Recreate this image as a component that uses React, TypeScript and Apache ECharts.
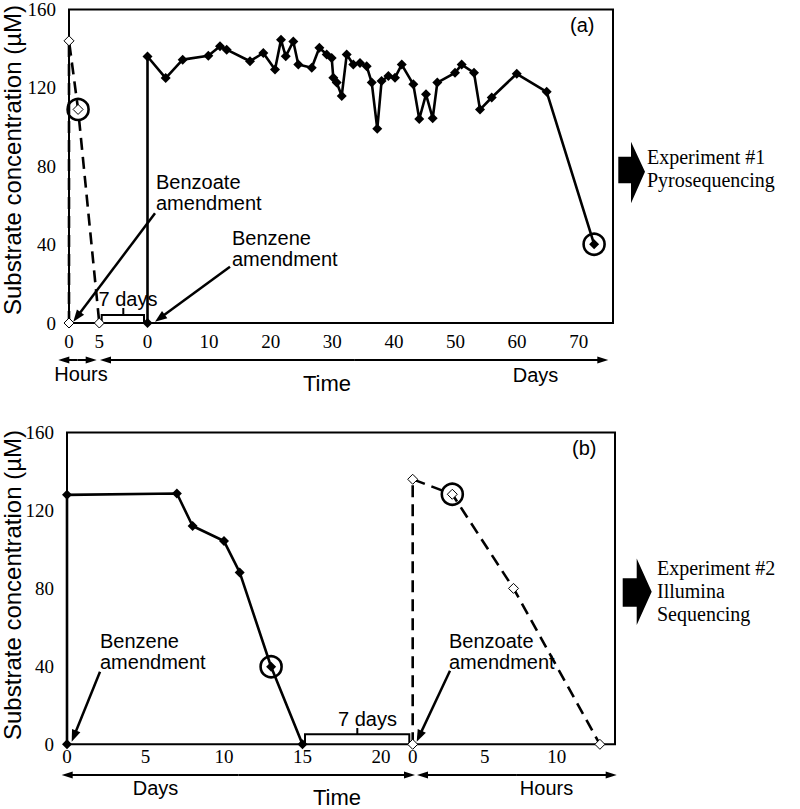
import React, { useEffect, useRef } from "react";
import * as echarts from "echarts";

// ---- data ----
// Panel (a): benzoate (hours, dashed, open diamonds)
const aBenzoateHours = [0, 0, 1.5, 5];
const aBenzoateConc = [0, 144, 109, 0];
// Panel (a): benzene (days, solid, filled diamonds)
const aBenzeneDays = [0, 0, 2.95, 5.71, 9.87, 11.77, 12.86, 16.64, 18.8, 20.7, 21.67, 22.44, 23.67, 24.48, 26.66, 27.9, 29.09, 29.9, 30.16, 30.71, 31.53, 32.34, 33.41, 34.5, 35.58, 36.4, 37.3, 38.0, 39.1, 40.18, 41.27, 43.15, 44.12, 45.21, 46.3, 47.05, 49.92, 51.0, 53.0, 53.98, 55.88, 59.94, 64.8, 72.5];
const aBenzeneConc = [0, 136, 125, 134.4, 136.4, 141.2, 139.5, 133.6, 137.8, 129.4, 144.5, 136.1, 143.7, 131.9, 130.3, 140.5, 137, 135.3, 125.2, 122.7, 115.9, 137, 131.9, 132.7, 131.1, 122.7, 99.1, 123.5, 126, 125.2, 131.9, 121.8, 104.1, 116.7, 104.5, 122.7, 127.7, 131.9, 127.7, 108.9, 115.1, 127.2, 118, 40.2];
const aCircleHours = [1.5];
const aCircleHoursConc = [109];
const aCircleDays = [72.5];
const aCircleDaysConc = [40.2];

// Panel (b): benzene (days, solid)
const bBenzeneDays = [0, 0, 7, 8, 10, 11, 13, 15];
const bBenzeneConc = [0, 128, 128.7, 112, 104.3, 88.2, 39.8, 0];
// Panel (b): benzoate (hours, dashed)
const bBenzoateHours = [0, 0, 2.75, 7, 13];
const bBenzoateConc = [0, 136, 128.3, 80, 0];
const bCircleDays = [13];
const bCircleDaysConc = [39.8];
const bCircleHours = [2.75];
const bCircleHoursConc = [128.3];

// tick labels
const yTicks = [0, 40, 80, 120, 160];
const aHourTicks = [0, 5];
const aDayTicks = [0, 10, 20, 30, 40, 50, 60, 70];
const bDayTicks = [0, 5, 10, 15, 20];
const bHourTicks = [0, 5, 10];

const SANS = "'Liberation Sans', Arial, sans-serif";
const SERIF = "'Liberation Serif', 'Times New Roman', serif";

const zip = (xs: number[], ys: number[]) => xs.map((x, i) => [x, ys[i]]);

function arrowEls(x1: number, y1: number, x2: number, y2: number, head = 12, half = 4.5, lw = 2.5) {
  const dx = x2 - x1, dy = y2 - y1;
  const len = Math.sqrt(dx * dx + dy * dy);
  const ux = dx / len, uy = dy / len;
  const bx = x2 - ux * head, by = y2 - uy * head;
  const px = -uy, py = ux;
  return [
    { type: "line", shape: { x1, y1, x2: bx + ux * 2, y2: by + uy * 2 }, style: { stroke: "#000", lineWidth: lw }, silent: true },
    { type: "polygon", shape: { points: [[x2, y2], [bx + px * half, by + py * half], [bx - px * half, by - py * half]] }, style: { fill: "#000" }, silent: true },
  ];
}

function doubleArrow(xa: number, xb: number, y: number) {
  const mid = (xa + xb) / 2;
  return [...arrowEls(mid, y, xa, y, 11, 3.5, 2), ...arrowEls(mid, y, xb, y, 11, 3.5, 2)];
}

function txt(x: number, y: number, text: string, size: number, family: string, align = "left", lineHeight?: number, rotation = 0) {
  return {
    type: "text", x, y, rotation, silent: true,
    style: { text, fontSize: size, fontFamily: family, fill: "#000", align, verticalAlign: "middle", lineHeight: lineHeight || size * 1.1 },
  };
}

function bracket(xa: number, xb: number, yTop: number, yBase: number, xMid: number, yTick: number) {
  return [
    { type: "polyline", shape: { points: [[xa, yBase], [xa, yTop], [xb, yTop], [xb, yBase]] }, style: { stroke: "#000", lineWidth: 2, fill: null }, silent: true },
    { type: "line", shape: { x1: xMid, y1: yTop, x2: xMid, y2: yTick }, style: { stroke: "#000", lineWidth: 2 }, silent: true },
  ];
}

function bigArrow(x0: number, x1: number, x2: number, bodyTop: number, bodyBot: number, triTop: number, triBot: number, tipY: number) {
  return {
    type: "polygon", silent: true,
    shape: { points: [[x0, bodyTop], [x1, bodyTop], [x1, triTop], [x2, tipY], [x1, triBot], [x1, bodyBot], [x0, bodyBot]] },
    style: { fill: "#000" },
  };
}

const xAxisBase = (gridIndex: number, min: number, max: number, ticks: number[], margin: number) => ({
  type: "value", gridIndex, min, max, position: "bottom",
  axisLine: { show: false }, axisTick: { show: false }, splitLine: { show: false },
  axisLabel: { customValues: ticks, fontFamily: SERIF, fontSize: 19, color: "#000", margin },
});

const yAxisBase = (gridIndex: number) => ({
  type: "value", gridIndex, min: 0, max: 160, interval: 40,
  axisLine: { show: false }, axisTick: { show: false }, splitLine: { show: false },
  axisLabel: { fontFamily: SERIF, fontSize: 19, color: "#000", margin: 13, customValues: yTicks },
});

const solidSeries = (xi: number, yi: number, data: number[][]) => ({
  type: "line", xAxisIndex: xi, yAxisIndex: yi, data, clip: false,
  symbol: "diamond", symbolSize: 10, showSymbol: true,
  itemStyle: { color: "#000", opacity: 1 },
  lineStyle: { color: "#000", width: 2.6 },
  emphasis: { disabled: true },
  z: 3,
});

const dashedSeries = (xi: number, yi: number, data: number[][]) => ({
  type: "line", xAxisIndex: xi, yAxisIndex: yi, data, clip: false,
  symbol: "diamond", symbolSize: 10, showSymbol: true,
  itemStyle: { color: "#fff", borderColor: "#000", borderWidth: 1, opacity: 1 },
  lineStyle: { color: "#000", width: 2.6, type: [12, 7] },
  emphasis: { disabled: true },
  z: 3,
});

const circleSeries = (xi: number, yi: number, data: number[][]) => ({
  type: "scatter", xAxisIndex: xi, yAxisIndex: yi, data, clip: false,
  symbol: "circle", symbolSize: 21,
  itemStyle: { color: "rgba(0,0,0,0)", borderColor: "#000", borderWidth: 2.6, opacity: 1 },
  emphasis: { disabled: true },
  z: 5,
});

export default function App() {
  const ref = useRef<HTMLDivElement>(null);
  useEffect(() => {
    if (!ref.current) return;
    const chart = echarts.init(ref.current, undefined, { renderer: "svg" });
    const graphic: any[] = [
      // y axis titles
      txt(12, 160, "Substrate concentration (µM)", 24, SANS, "center", 26, Math.PI / 2),
      txt(12, 585, "Substrate concentration (µM)", 24, SANS, "center", 26, Math.PI / 2),
      // panel labels
      txt(570, 25, "(a)", 20, SANS),
      txt(572, 447.5, "(b)", 20, SANS),
      // panel (a) annotations
      txt(156, 192.5, "Benzoate\namendment", 20, SANS, "left", 21),
      ...arrowEls(155, 213.3, 73.3, 321.7),
      txt(232, 248, "Benzene\namendment", 20, SANS, "left", 21),
      ...arrowEls(230, 266.7, 155, 321.7),
      txt(128, 299, "7 days", 20, SANS, "center"),
      ...bracket(101.7, 144, 315, 322, 123.3, 308),
      ...doubleArrow(58.3, 96.7, 360),
      ...doubleArrow(100, 608.3, 360),
      txt(81, 373.5, "Hours", 20, SANS, "center"),
      txt(535.5, 374.5, "Days", 20, SANS, "center"),
      txt(327, 383, "Time", 22, SANS, "center"),
      bigArrow(618.3, 631, 645, 156.7, 183.3, 141.7, 203.3, 171.7),
      txt(647, 168.5, "Experiment #1\nPyrosequencing", 20, SERIF, "left", 23),
      // panel (b) annotations
      txt(100, 651, "Benzene\namendment", 20, SANS, "left", 21),
      ...arrowEls(100, 671.7, 71.7, 741.7),
      txt(449, 651, "Benzoate\namendment", 20, SANS, "left", 21),
      ...arrowEls(450, 670.7, 416.7, 741.7),
      txt(367.5, 718.5, "7 days", 20, SANS, "center"),
      ...bracket(305, 409.3, 734.3, 744, 357.3, 728),
      ...doubleArrow(61.7, 415, 775),
      ...doubleArrow(417, 616.7, 775),
      txt(155.5, 787.5, "Days", 20, SANS, "center"),
      txt(546.5, 787.5, "Hours", 20, SANS, "center"),
      txt(337, 797, "Time", 22, SANS, "center"),
      bigArrow(622.7, 636.7, 651.7, 578.3, 606.7, 558.4, 625, 591.7),
      txt(657, 591, "Experiment #2\nIllumina\nSequencing", 20, SERIF, "left", 23),
    ];

    chart.setOption({
      animation: false,
      backgroundColor: "#fff",
      grid: [
        { left: 69, top: 6, width: 544, height: 317, show: true, borderColor: "#000", borderWidth: 2, backgroundColor: "transparent" },
        { left: 67, top: 432.5, width: 548, height: 311.8, show: true, borderColor: "#000", borderWidth: 2, backgroundColor: "transparent" },
      ],
      xAxis: [
        xAxisBase(0, 0, 544 / 6.06, aHourTicks, 9),
        xAxisBase(0, -(147.5 - 69) / 6.16, (613 - 147.5) / 6.16, aDayTicks, 9),
        xAxisBase(1, 0, 548 / 15.7, bDayTicks, 3),
        xAxisBase(1, -(412.7 - 67) / 14.4, (615 - 412.7) / 14.4, bHourTicks, 3),
      ],
      yAxis: [yAxisBase(0), yAxisBase(1)],
      series: [
        dashedSeries(0, 0, zip(aBenzoateHours, aBenzoateConc)),
        solidSeries(1, 0, zip(aBenzeneDays, aBenzeneConc)),
        circleSeries(0, 0, zip(aCircleHours, aCircleHoursConc)),
        circleSeries(1, 0, zip(aCircleDays, aCircleDaysConc)),
        solidSeries(2, 1, zip(bBenzeneDays, bBenzeneConc)),
        dashedSeries(3, 1, zip(bBenzoateHours, bBenzoateConc)),
        circleSeries(2, 1, zip(bCircleDays, bCircleDaysConc)),
        circleSeries(3, 1, zip(bCircleHours, bCircleHoursConc)),
      ],
      graphic,
    });
    return () => chart.dispose();
  }, []);
  return <div ref={ref} style={{ position: "fixed", left: 0, top: 0, width: 800, height: 809 }} />;
}
